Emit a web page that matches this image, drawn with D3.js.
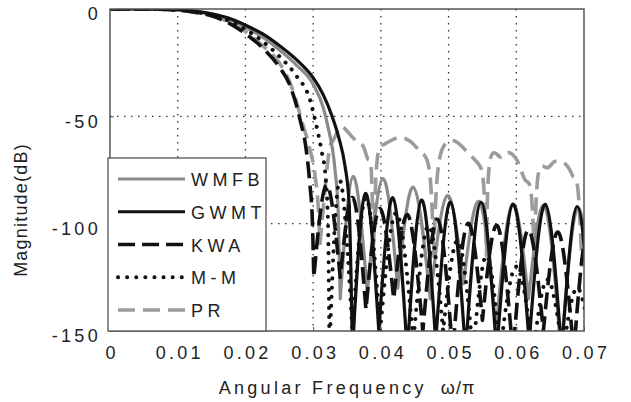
<!DOCTYPE html>
<html>
<head>
<meta charset="utf-8">
<script src="https://cdn.jsdelivr.net/npm/d3@7/dist/d3.min.js"></script>
<style>
  body { margin: 0; background: #fff; }
  svg text { font-family: "Liberation Sans", Arial, sans-serif; fill: #222; }
</style>
</head>
<body>
<svg id="chart" width="631" height="402"></svg>
<script>
// ---------------- data ----------------
var freqTicks = [0, 0.01, 0.02, 0.03, 0.04, 0.05, 0.06, 0.07];
var freqLabels = ["0", "0.01", "0.02", "0.03", "0.04", "0.05", "0.06", "0.07"];
var magTicks = [0, -50, -100, -150];
var magLabels = ["0", "-50", "-100", "-150"];

var seriesNames = ["WMFB", "GWMT", "KWA", "M-M", "PR"];

// [frequency (w/pi), magnitude dB] : passband, transition, then sidelobe peaks and nulls
var wmfb = [[0,0],[0.005,0],[0.01,-0.4],[0.0125,-1.2],[0.015,-2.5],[0.0175,-4.8],[0.02,-8.5],
  [0.0225,-13],[0.025,-19],[0.0275,-26],[0.03,-35],[0.0315,-46],[0.0322,-55],[0.0332,-74],
  [0.0337,-95],[0.034,-135],[0.0359,-78],[0.038,-132],[0.0403,-79],[0.0425,-130],[0.0448,-83],
  [0.0473,-135],[0.0498,-87],[0.0522,-128],[0.0546,-90],[0.057,-150],[0.0594,-91],[0.0618,-135],
  [0.0642,-92],[0.0666,-160],[0.069,-93],[0.0712,-140]];

var gwmt = [[0,0],[0.005,0],[0.01,-0.3],[0.0125,-1],[0.015,-2.2],[0.0175,-4.2],[0.02,-7.5],
  [0.0225,-11.5],[0.025,-17],[0.0275,-23.5],[0.03,-32],[0.0315,-40],[0.0328,-50],[0.0338,-60],
  [0.0347,-73],[0.0353,-90],[0.0358,-160],[0.0377,-86],[0.0397,-150],[0.0418,-88],[0.0439,-160],
  [0.046,-89],[0.0481,-155],[0.0503,-90],[0.0525,-160],[0.0548,-90],[0.0571,-160],[0.0595,-91],
  [0.0619,-155],[0.0643,-91],[0.0667,-160],[0.069,-92],[0.0712,-160]];

var kwa = [[0,0],[0.005,0],[0.01,-0.5],[0.0125,-1.5],[0.015,-3.2],[0.0175,-6.5],[0.02,-11.5],
  [0.0225,-18],[0.025,-27],[0.0265,-35],[0.0281,-52],[0.029,-66],[0.0295,-81],[0.0299,-100],
  [0.0301,-125],[0.032,-82],[0.034,-125],[0.0359,-88],[0.0378,-140],[0.0398,-93],[0.0419,-135],
  [0.044,-96],[0.0462,-150],[0.0484,-98],[0.0506,-160],[0.0528,-100],[0.055,-145],[0.0572,-101],
  [0.0595,-160],[0.0617,-103],[0.064,-150],[0.0662,-104],[0.0685,-160],[0.0705,-105],[0.0725,-160]];

var mm = [[0,0],[0.005,0],[0.01,-0.4],[0.0125,-1.3],[0.015,-2.8],[0.0175,-5.5],[0.02,-9.5],
  [0.0225,-15],[0.025,-22],[0.0275,-31],[0.0295,-42],[0.0306,-56],[0.0313,-67],[0.0318,-77],
  [0.0322,-100],[0.0324,-160],[0.0339,-80],[0.0358,-150],[0.0378,-88],[0.0399,-150],[0.0423,-95],
  [0.0448,-155],[0.047,-101],[0.0492,-150],[0.0514,-108],[0.0536,-160],[0.0556,-115],[0.0576,-160],
  [0.06,-120],[0.0625,-160],[0.0646,-126],[0.0669,-160],[0.069,-130],[0.0712,-160]];

var pr = [[0,0],[0.005,0],[0.01,-0.5],[0.0125,-1.4],[0.015,-3],[0.0175,-6],[0.02,-10.5],
  [0.0225,-17],[0.025,-25],[0.0268,-36],[0.0284,-53],[0.0295,-65],[0.0303,-78],[0.0308,-95],
  [0.031,-110],
  [0.0322,-70],[0.0328,-62],[0.0335,-57.5],[0.0344,-55],[0.0362,-61],[0.0374,-64],[0.0381,-70],
  [0.0386,-76],[0.0389,-115],
  [0.0394,-72],[0.0405,-63],[0.0425,-60],[0.0445,-62],[0.046,-67],[0.0472,-76],[0.0478,-115],
  [0.0485,-73],[0.0499,-62],[0.0512,-62],[0.0532,-68],[0.0546,-73],[0.0552,-83],[0.0556,-115],
  [0.0561,-71],[0.0576,-69],[0.0586,-67],[0.0598,-69],[0.0606,-74],[0.0614,-80],[0.0622,-86],
  [0.0627,-120],
  [0.0632,-78],[0.0645,-74],[0.0657,-71],[0.0675,-73],[0.0684,-78],[0.0691,-84],[0.0697,-120]];

var seriesData = [wmfb, gwmt, kwa, mm, pr];

// ---------------- styles ----------------
var styles = {
  "WMFB": {color: "#8a8a8a", width: 3.2, dash: null, cap: "butt"},
  "GWMT": {color: "#111", width: 3.2, dash: null, cap: "butt"},
  "KWA":  {color: "#111", width: 3.6, dash: "17,7", cap: "butt"},
  "M-M":  {color: "#111", width: 4, dash: "0.1,9", cap: "round"},
  "PR":   {color: "#9c9c9c", width: 3.6, dash: "17,8", cap: "butt"}
};
var drawOrder = ["PR", "WMFB", "GWMT", "KWA", "M-M"];

var plotL = 110, plotR = 584, plotT = 9, plotB = 331;

var svg = d3.select("#chart");

var xs = d3.scaleLinear().domain([0, 0.07]).range([plotL, plotR]);
var ys = d3.scaleLinear().domain([-150, 0]).range([plotB, plotT]);

// clip
svg.append("defs").append("clipPath").attr("id", "plotclip")
  .append("rect").attr("x", plotL).attr("y", plotT).attr("width", plotR - plotL).attr("height", plotB - plotT);

// grid
var grid = svg.append("g");
freqTicks.slice(1, -1).forEach(function(f) {
  grid.append("line").attr("x1", xs(f)).attr("x2", xs(f)).attr("y1", plotT).attr("y2", plotB)
    .attr("stroke", "#333").attr("stroke-width", 1.3).attr("stroke-dasharray", "1.5,5.5");
});
magTicks.slice(1, -1).forEach(function(m) {
  grid.append("line").attr("x1", plotL).attr("x2", plotR).attr("y1", ys(m)).attr("y2", ys(m))
    .attr("stroke", "#333").attr("stroke-width", 1.3).attr("stroke-dasharray", "1.5,5.5");
});

// split each response into a transition part and single sidelobes (null to null)
function buildPath(pts) {
  var cuts = [0];
  for (var i = 1; i < pts.length - 1; i++) {
    if (pts[i][1] < pts[i - 1][1] && pts[i][1] < pts[i + 1][1]) cuts.push(i);
  }
  cuts.push(pts.length - 1);
  var p = d3.path();
  var started = false;
  var ctx = {
    moveTo: function(x, y) { if (started) p.lineTo(x, y); else { p.moveTo(x, y); started = true; } },
    lineTo: function(x, y) { p.lineTo(x, y); },
    bezierCurveTo: function(a, b, c, d, e, f) { p.bezierCurveTo(a, b, c, d, e, f); },
    closePath: function() {}
  };
  for (var k = 0; k < cuts.length - 1; k++) {
    var seg = pts.slice(cuts[k], cuts[k + 1] + 1);
    if (seg.length < 2) continue;
    d3.line()
      .x(function(d) { return xs(d[0]); })
      .y(function(d) { return ys(d[1]); })
      .curve(k === 0 ? d3.curveMonotoneX : d3.curveNatural)
      .context(ctx)(seg);
  }
  return p.toString();
}

var plot = svg.append("g").attr("clip-path", "url(#plotclip)");
drawOrder.forEach(function(name) {
  var st = styles[name];
  var pts = seriesData[seriesNames.indexOf(name)];
  plot.append("path")
    .attr("d", buildPath(pts))
    .attr("fill", "none")
    .attr("stroke", st.color)
    .attr("stroke-width", st.width)
    .attr("stroke-dasharray", st.dash)
    .attr("stroke-linecap", st.cap)
    .attr("stroke-linejoin", "round");
});

// box
svg.append("rect").attr("x", plotL).attr("y", plotT).attr("width", plotR - plotL).attr("height", plotB - plotT)
  .attr("fill", "none").attr("stroke", "#555").attr("stroke-width", 1.5);

// axes
var xAxis = svg.append("g").attr("transform", "translate(0," + plotB + ")")
  .call(d3.axisBottom(xs).tickValues(freqTicks).tickFormat(function(d, i) { return freqLabels[i]; })
    .tickSize(-4).tickPadding(15));
var yAxis = svg.append("g").attr("transform", "translate(" + plotL + ",0)")
  .call(d3.axisLeft(ys).tickValues(magTicks).tickFormat(function(d, i) { return magLabels[i]; })
    .tickSize(-4).tickPadding(9));
[xAxis, yAxis].forEach(function(a) {
  a.select(".domain").remove();
  a.selectAll(".tick line").attr("stroke", "#555");
  a.selectAll(".tick text").attr("font-size", 18).attr("letter-spacing", "3.3px")
    .attr("font-family", "Liberation Sans, Arial, sans-serif").attr("fill", "#222");
});
yAxis.selectAll(".tick text").attr("dy", "0.6em");
xAxis.selectAll(".tick text").attr("dx", "1.6px");

// axis titles
var xt = svg.append("text").attr("x", 347).attr("y", 394).attr("text-anchor", "middle")
  .attr("font-size", 18).attr("letter-spacing", "3.3px");
xt.append("tspan").text("Angular Frequency");
xt.append("tspan").attr("dx", 14).attr("letter-spacing", "1px").text("ω/π");

svg.append("text").attr("transform", "translate(27,210) rotate(-90)").attr("text-anchor", "middle")
  .attr("font-size", 18).attr("letter-spacing", "1.2px").text("Magnitude(dB)");

// legend
var lg = svg.append("g");
lg.append("rect").attr("x", 108).attr("y", 158).attr("width", 158).attr("height", plotB - 158)
  .attr("fill", "#fff").attr("stroke", "#555").attr("stroke-width", 1.3);
var legendY = d3.scalePoint().domain(seriesNames).range([179, 310]);
seriesNames.forEach(function(name) {
  var st = styles[name];
  var yy = legendY(name);
  lg.append("line").attr("x1", 118).attr("x2", 185).attr("y1", yy).attr("y2", yy)
    .attr("stroke", st.color).attr("stroke-width", st.width)
    .attr("stroke-dasharray", st.dash).attr("stroke-linecap", st.cap);
  lg.append("text").attr("x", 191).attr("y", yy + 7).attr("font-size", 18)
    .attr("letter-spacing", "4.5px").text(name);
});
</script>
</body>
</html>
